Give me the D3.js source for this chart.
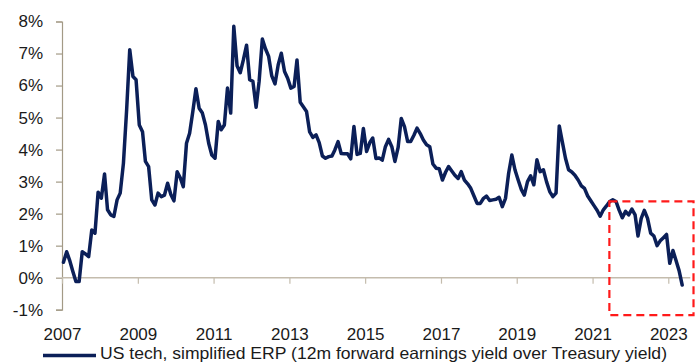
<!DOCTYPE html>
<html>
<head>
<meta charset="utf-8">
<script src="https://cdn.jsdelivr.net/npm/d3@7/dist/d3.min.js"></script>
<style>
  html, body { margin: 0; padding: 0; background: #ffffff; }
  svg { display: block; }
  text { font-family: "Liberation Sans", Arial, sans-serif; fill: #1a1a1a; }
</style>
</head>
<body>
<svg id="chart" width="695" height="363"></svg>
<script>
// US tech simplified equity risk premium, monthly, in percent
const startYear = 2007;
const startMonth = 0; // January
const erp = [
  0.48, 0.81, 0.55, 0.20, -0.12, -0.12, 0.81, 0.74, 0.66, 1.49, 1.39, 2.67,
  2.48, 3.24, 2.12, 1.96, 1.91, 2.43, 2.64, 3.57, 5.24, 7.12, 6.28, 6.18,
  4.77, 4.56, 3.63, 3.47, 2.43, 2.27, 2.64, 2.53, 2.58, 2.95, 2.60, 2.40,
  3.31, 3.11, 2.84, 4.20, 4.51, 5.19, 5.90, 5.29, 5.14, 4.77, 4.20, 3.83,
  3.73, 4.88, 4.62, 4.77, 5.92, 5.14, 7.85, 6.62, 6.40, 6.80, 7.26, 6.18,
  6.13, 5.32, 6.13, 7.45, 7.15, 6.91, 6.30, 6.05, 6.65, 7.01, 6.44, 6.23,
  5.92, 5.97, 6.80, 5.48, 5.34, 5.19, 4.55, 4.38, 4.46, 4.22, 3.80, 3.73,
  3.78, 3.80, 3.99, 4.25, 3.88, 3.87, 3.87, 3.71, 4.72, 3.85, 3.88, 4.66,
  3.94, 4.22, 4.36, 3.72, 3.74, 3.67, 4.09, 4.32, 4.09, 3.63, 4.07, 4.97,
  4.72, 4.25, 4.25, 4.45, 4.67, 4.50, 4.30, 4.15, 4.09, 3.55, 3.42, 3.40,
  3.05, 3.30, 3.47, 3.33, 3.20, 3.10, 3.31, 3.05, 2.93, 2.79, 2.55, 2.32,
  2.32, 2.48, 2.55, 2.41, 2.43, 2.45, 2.51, 2.22, 2.48, 3.26, 3.83, 3.37,
  3.05, 2.75, 2.58, 3.00, 3.18, 2.90, 3.68, 3.31, 3.37, 3.00, 2.69, 2.53,
  2.64, 4.74, 4.25, 3.73, 3.37, 3.30, 3.20, 3.05, 2.87, 2.79, 2.55, 2.40,
  2.25, 2.10, 1.92, 2.12, 2.24, 2.38, 2.43, 2.38, 2.10, 1.87, 2.07, 1.96,
  2.14, 1.96, 1.30, 1.85, 2.10, 1.85, 1.39, 1.30, 1.00, 1.15, 1.25, 1.35,
  0.45, 0.85, 0.55, 0.22, -0.23
];

const xTickYears = [2007, 2009, 2011, 2013, 2015, 2017, 2019, 2021, 2023];
const yTickValues = [-1, 0, 1, 2, 3, 4, 5, 6, 7, 8];
const legendLabel = "US tech, simplified ERP (12m forward earnings yield over Treasury yield)";

// Highlighted recent period (dates and values, in % units)
const highlightDates = ["2021-06-12", "2023-09-01"];
const highlightValues = [-1.17, 2.38];

const axisEnd = new Date(2023, 7, 1);

const svg = d3.select("#chart");

const x = d3.scaleTime()
  .domain([new Date(2007, 0, 1), new Date(2023, 0, 1)])
  .range([62, 668.3]);

const y = d3.scaleLinear()
  .domain([-1, 8])
  .range([309.7, 21.5]);

const points = erp.map((v, i) => ({ date: new Date(startYear, startMonth + i, 15), value: v }));

// Y axis
const yAxis = d3.axisLeft(y)
  .tickValues(yTickValues)
  .tickSize(6)
  .tickPadding(13)
  .tickFormat(d => d + "%");

const gy = svg.append("g")
  .attr("transform", `translate(${x.range()[0]},0)`)
  .call(yAxis);
gy.select(".domain").attr("stroke", "#a39a86").attr("stroke-width", 1.2);
gy.selectAll(".tick line").attr("stroke", "#a39a86").attr("stroke-width", 1.2);
gy.selectAll(".tick text")
  .style("font-size", "17px")
  .attr("fill", "#1a1a1a");

// X axis along the 0% line
const xAxis = d3.axisBottom(x)
  .tickValues(xTickYears.map(yr => new Date(yr, 0, 1)))
  .tickSize(6)
  .tickSizeOuter(0)
  .tickFormat(d3.timeFormat("%Y"));

const gx = svg.append("g")
  .attr("transform", `translate(0,${y(0)})`)
  .call(xAxis);
gx.select(".domain").remove();
gx.append("line")
  .attr("x1", x.range()[0])
  .attr("x2", x(axisEnd))
  .attr("stroke", "#c4bcad")
  .attr("stroke-width", 1.5);
gx.selectAll(".tick line").attr("stroke", "#c4bcad").attr("stroke-width", 1.2);
gx.selectAll(".tick text")
  .attr("y", 0)
  .attr("dy", 0)
  .attr("transform", `translate(0,${339.5 - y(0)})`)
  .style("font-size", "17px")
  .attr("fill", "#1a1a1a");

// ERP line
const line = d3.line()
  .x(d => x(d.date))
  .y(d => y(d.value))
  .curve(d3.curveLinear);

svg.append("path")
  .datum(points)
  .attr("fill", "none")
  .attr("stroke", "#0b1f58")
  .attr("stroke-width", 3.5)
  .attr("stroke-linejoin", "round")
  .attr("stroke-linecap", "round")
  .attr("d", line);

// Dashed highlight box
const hx0 = x(new Date(highlightDates[0]));
const hx1 = x(new Date(highlightDates[1]));
const hy0 = y(highlightValues[1]);
const hy1 = y(highlightValues[0]);
svg.append("rect")
  .attr("x", hx0)
  .attr("y", hy0)
  .attr("width", hx1 - hx0)
  .attr("height", hy1 - hy0)
  .attr("fill", "none")
  .attr("stroke", "#ff1a1a")
  .attr("stroke-width", 2.2)
  .attr("stroke-dasharray", "8,5");

// Legend
const legend = svg.append("g");
legend.append("line")
  .attr("x1", 43).attr("x2", 96)
  .attr("y1", 355.5).attr("y2", 355.5)
  .attr("stroke", "#0b1f58")
  .attr("stroke-width", 3.5);
legend.append("text")
  .attr("x", 100)
  .attr("y", 359)
  .attr("textLength", 567)
  .attr("lengthAdjust", "spacingAndGlyphs")
  .style("font-size", "16.5px")
  .text(legendLabel);
</script>
</body>
</html>
